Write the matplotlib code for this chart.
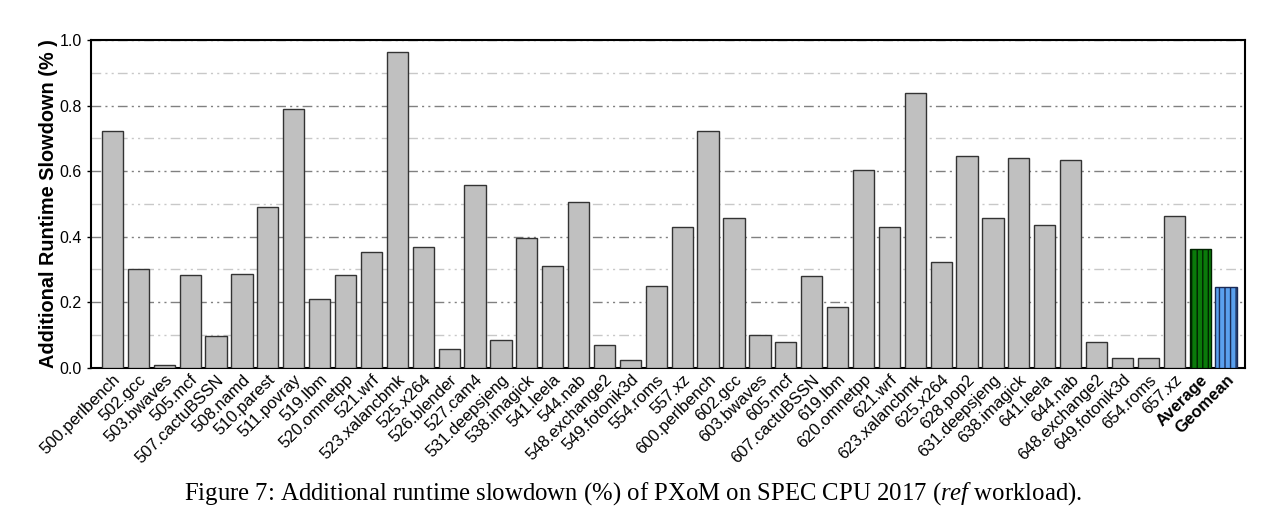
import numpy as np
import matplotlib
matplotlib.use('Agg')
import matplotlib.pyplot as plt
import matplotlib.transforms as mtransforms

benchmarks = ['500.perlbench', '502.gcc', '503.bwaves', '505.mcf', '507.cactuBSSN',
              '508.namd', '510.parest', '511.povray', '519.lbm', '520.omnetpp',
              '521.wrf', '523.xalancbmk', '525.x264', '526.blender', '527.cam4',
              '531.deepsjeng', '538.imagick', '541.leela', '544.nab', '548.exchange2',
              '549.fotonik3d', '554.roms', '557.xz',
              '600.perlbench', '602.gcc', '603.bwaves', '605.mcf', '607.cactuBSSN',
              '619.lbm', '620.omnetpp', '621.wrf', '623.xalancbmk', '625.x264',
              '628.pop2', '631.deepsjeng', '638.imagick', '641.leela', '644.nab',
              '648.exchange2', '649.fotonik3d', '654.roms', '657.xz']
slowdown = [0.722, 0.302, 0.010, 0.284, 0.098,
            0.287, 0.491, 0.790, 0.210, 0.284,
            0.354, 0.963, 0.369, 0.058, 0.558,
            0.085, 0.396, 0.311, 0.506, 0.070,
            0.024, 0.250, 0.430,
            0.722, 0.457, 0.100, 0.079, 0.280,
            0.186, 0.604, 0.430, 0.838, 0.323,
            0.646, 0.457, 0.640, 0.436, 0.634,
            0.079, 0.030, 0.030, 0.463]
summary_labels = ['Average', 'Geomean']
summary_values = [0.363, 0.247]

plt.rcParams['font.family'] = ['Liberation Sans', 'DejaVu Sans']
plt.rcParams['mathtext.fontset'] = 'custom'
plt.rcParams['mathtext.rm'] = 'Liberation Serif'
plt.rcParams['mathtext.it'] = 'Liberation Serif:italic'
plt.rcParams['hatch.linewidth'] = 1.0

fig = plt.figure(figsize=(12.67, 5.13), dpi=100)
ax = fig.add_axes([0.0718, 0.283, 0.9112, 0.639])

x = np.arange(len(benchmarks))
ax.bar(x, slowdown, width=0.82, color='#c0c0c0', edgecolor='#333333',
       linewidth=1.0, zorder=3)

xs = np.arange(len(benchmarks), len(benchmarks) + 2)
ax.bar(xs[0], summary_values[0], width=0.82, color='#0a7a0a', edgecolor='#002200',
       hatch='|||', linewidth=1.0, zorder=3)
ax.bar(xs[1], summary_values[1], width=0.82, color='#5aa0ee', edgecolor='#1a2a55',
       hatch='|||', linewidth=1.0, zorder=3)

ax.set_xlim(-0.83, len(benchmarks) + 1.75)
ax.set_ylim(0, 1.0)
ax.set_yticks([0.0, 0.2, 0.4, 0.6, 0.8, 1.0])
ax.set_yticks([0.1, 0.3, 0.5, 0.7, 0.9], minor=True)
ax.tick_params(axis='y', which='major', labelsize=11.5, length=3, width=1)
ax.tick_params(axis='y', which='minor', length=0)
ax.yaxis.grid(True, which='major', color='#808080', linewidth=1.0,
              linestyle=(0, (7, 3, 1.5, 3, 1.5, 3)), zorder=0)
ax.yaxis.grid(True, which='minor', color='#c8c8c8', linewidth=1.0,
              linestyle=(0, (7, 3, 1.5, 3, 1.5, 3)), zorder=0)

all_labels = benchmarks + summary_labels
ax.set_xticks(np.concatenate([x, xs]))
ax.set_xticklabels(all_labels, rotation=45, ha='right', rotation_mode='anchor',
                   fontsize=12)
shift = mtransforms.ScaledTranslation(4 / 100, 0, fig.dpi_scale_trans)
for lbl in ax.get_xticklabels():
    lbl.set_transform(lbl.get_transform() + shift)
for lbl in ax.get_xticklabels()[-2:]:
    lbl.set_fontweight('bold')
ax.tick_params(axis='x', length=0, pad=3)

for s in ax.spines.values():
    s.set_linewidth(1.5)

ax.set_ylabel('Additional Runtime Slowdown (% )', fontsize=14.3, fontweight='bold',
              labelpad=1)

fig.text(0.5, 0.038, 'Figure 7: Additional runtime slowdown (%) of PXoM on SPEC CPU 2017 ($\\it{ref}$ workload).',
         ha='center', va='center', fontsize=17.8, family='Liberation Serif')

fig.savefig('out.png', dpi=100)
